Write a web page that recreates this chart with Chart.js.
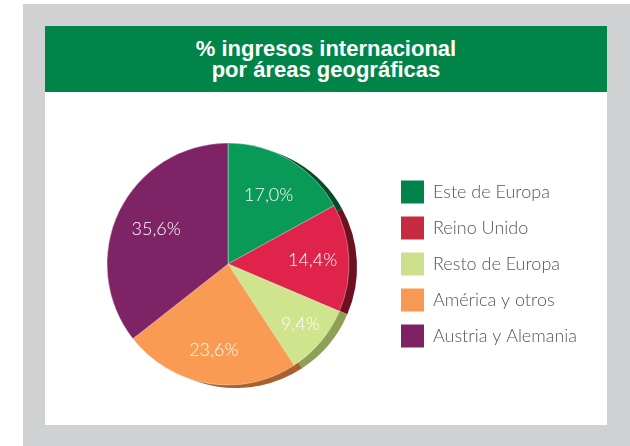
<!DOCTYPE html>
<html><head><meta charset="utf-8">
<script src="https://cdn.jsdelivr.net/npm/chart.js@4"></script>
<style>
html,body{margin:0;padding:0;}
body{width:630px;height:446px;background:#fff;position:relative;overflow:hidden;}
#frame{position:absolute;left:23px;top:4px;width:607px;height:442px;background:#d0d1d3;}
#panel{position:absolute;left:45px;top:26px;width:562px;height:399px;background:#fff;}
#head{height:66px;background:#008448;color:#fff;display:flex;align-items:center;justify-content:center;text-align:center;font:bold 22px/21px "Liberation Sans",Arial,sans-serif;}
#wrap{position:relative;width:562px;height:333px;}
</style>
</head><body>
<div id="frame"></div>
<div id="panel">
  <div id="head"><div>% ingresos internacional<br>por áreas geográficas</div></div>
  <div id="wrap"><canvas id="c"></canvas></div>
</div>
<script>
const categories = ["Este de Europa", "Reino Unido", "Resto de Europa", "América y otros", "Austria y Alemania"];
const values = [17.0, 14.4, 9.4, 23.6, 35.6];
const sliceColors = ["#0a9a58", "#e0234b", "#cfe48c", "#f99b52", "#7e2466"];
const legendColors = ["#008349", "#c52a41", "#cddf8b", "#f79853", "#7f2165"];
const rimColors = ["#064a2a", "#6e0f22", "#8ea055", "#a8602e", "#4a1038"];
const labelRadius = [0.66, 0.70, 0.78, 0.72, 0.66];

const fmt = v => v.toFixed(1).replace('.', ',') + '%';

const rimPlugin = {
  id: 'rim',
  beforeDatasetsDraw(chart) {
    const ctx = chart.ctx;
    const meta = chart.getDatasetMeta(0);
    meta.data.forEach((arc, i) => {
      const p = arc.getProps(['x','y','startAngle','endAngle','outerRadius'], true);
      ctx.save();
      ctx.beginPath();
      ctx.moveTo(p.x + 8, p.y + 3);
      ctx.arc(p.x + 8, p.y + 3, p.outerRadius, p.startAngle, p.endAngle);
      ctx.closePath();
      ctx.fillStyle = rimColors[i];
      ctx.fill();
      ctx.restore();
    });
  }
};

const labelPlugin = {
  id: 'pctLabels',
  afterDatasetsDraw(chart) {
    const ctx = chart.ctx;
    const meta = chart.getDatasetMeta(0);
    ctx.save();
    ctx.fillStyle = '#ffffff';
    ctx.font = '300 18px Lato, "Open Sans", sans-serif';
    ctx.textAlign = 'center';
    ctx.textBaseline = 'middle';
    meta.data.forEach((arc, i) => {
      const p = arc.getProps(['x','y','startAngle','endAngle','outerRadius'], true);
      const mid = (p.startAngle + p.endAngle) / 2;
      const r = p.outerRadius * labelRadius[i];
      ctx.fillText(fmt(values[i]), p.x + Math.cos(mid) * r, p.y + Math.sin(mid) * r);
    });
    ctx.restore();
  }
};

new Chart(document.getElementById('c'), {
  type: 'pie',
  data: {
    labels: categories,
    datasets: [{
      data: values,
      backgroundColor: sliceColors,
      borderColor: 'rgba(255,255,255,0.35)',
      borderWidth: 1,
      hoverOffset: 0
    }]
  },
  options: {
    responsive: true,
    maintainAspectRatio: false,
    animation: false,
    radius: 121,
    layout: { padding: { left: 23, top: 51, bottom: 40, right: 23 } },
    plugins: {
      tooltip: { enabled: false },
      legend: {
        position: 'right',
        maxWidth: 196,
        labels: {
          boxWidth: 23,
          boxHeight: 23,
          padding: 13,
          color: '#555555',
          font: { family: 'Lato, "Open Sans", sans-serif', size: 18, weight: '300' },
          generateLabels(chart) {
            return categories.map((t, i) => ({
              text: t,
              fillStyle: legendColors[i],
              strokeStyle: legendColors[i],
              lineWidth: 0,
              hidden: false,
              index: i,
              fontColor: '#555555'
            }));
          }
        }
      }
    }
  },
  plugins: [rimPlugin, labelPlugin]
});
</script>
</body></html>
